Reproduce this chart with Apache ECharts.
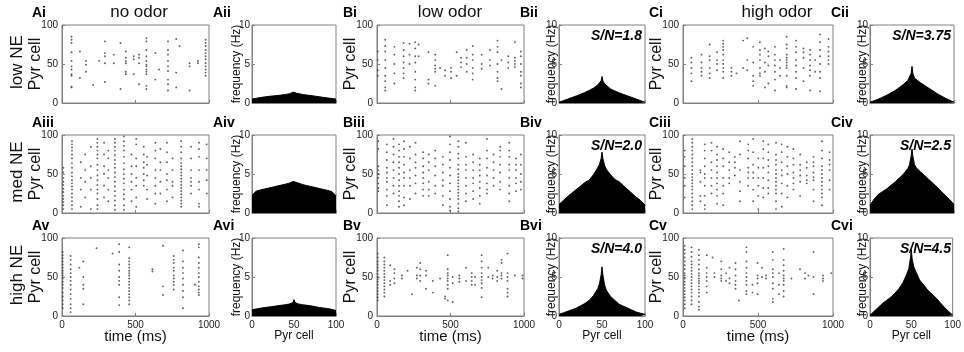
<!DOCTYPE html>
<html>
<head>
<meta charset="utf-8">
<script src="https://cdn.jsdelivr.net/npm/echarts@6/dist/echarts.min.js"></script>
<style>
  html, body { margin: 0; padding: 0; background: #fff; }
  #main { width: 964px; height: 352px; }
</style>
</head>
<body>
<div id="main"></div>
<script>
// spike rasters: [time (ms), [Pyr cells that fired]]
const rasterAi = [
  [65, [85, 81, 77, 65, 54, 47, 43, 37, 35, 21, 20]], [122, [66, 32]], [163, [54, 49, 40]], [212, [23]],
  [253, [54]], [292, [79, 64, 60, 51, 27]], [352, [62, 51]], [398, [77, 18]], [434, [66, 58, 54, 51, 40, 37]],
  [488, [60, 56, 37]], [524, [62, 58, 51, 24]], [574, [83, 79, 68, 60, 54, 49, 47, 43, 40, 37, 22, 18]],
  [635, [64, 30]], [660, [43]], [721, [79, 68, 62, 54, 47, 41, 30, 24, 16]], [777, [82, 39, 20]], [800, [73]],
  [868, [51, 47, 16]], [925, [54, 51]], [977, [81, 77, 73, 68, 64, 60, 56, 51, 47, 43, 39, 35]]
];
const rasterAiii = [
  [9, [5, 10, 14, 18, 22, 27, 31, 36, 40, 45, 52, 58]],
  [68, [92, 88, 84, 80, 75, 70, 64, 58, 52, 47, 42, 38, 34, 30, 25, 20, 15, 10, 5]],
  [128, [65, 45, 30, 8]], [158, [75, 55, 40, 20]], [196, [85, 60, 45, 30, 5]],
  [241, [95, 90, 85, 80, 75, 70, 62, 55, 48, 42, 36, 30, 25, 18, 10, 5]],
  [286, [90, 75, 60, 50, 35, 20]], [315, [80, 70, 55, 45, 30, 15]],
  [360, [95, 90, 85, 80, 74, 68, 63, 58, 52, 46, 40, 34, 28, 22, 16, 10, 4]],
  [421, [98, 92, 86, 80, 72, 64, 56, 50, 44, 38, 30, 24, 18, 10, 4]],
  [473, [75, 60, 50, 40, 30, 15]], [505, [95, 88, 70, 60, 45, 35, 20, 8]], [556, [85, 75, 65, 58, 50, 42, 35]],
  [579, [72, 62, 48, 30, 18]], [635, [90, 80, 70, 55, 45, 35, 25, 12]], [669, [82, 65, 55, 40, 25]],
  [714, [90, 78, 65, 50, 42, 30, 15]], [752, [70, 55, 40, 35, 20]],
  [811, [92, 85, 78, 70, 64, 60, 56, 52, 48, 44, 40, 36, 32, 28, 24, 20, 16, 12, 8]],
  [878, [85, 70, 55, 45, 40, 35, 25]], [932, [90, 82, 72, 55, 40, 30, 12, 8]], [984, [88, 70, 55, 42, 25]]
];
const rasterAv = [
  [5, [82, 78, 74, 70, 66, 62, 58, 55, 52, 48, 44, 40, 36, 30, 25, 20, 15, 10]],
  [59, [77, 72, 66, 60, 55, 50, 45, 40, 34, 28, 22, 15, 10, 5]],
  [118, [62]], [145, [70, 50, 40, 35, 15]], [235, [87]], [344, [80]],
  [389, [92, 82, 66, 58, 50, 45, 40, 24, 14]],
  [457, [88, 74, 70, 66, 62, 58, 55, 52, 48, 44, 40, 36, 32, 28, 24, 20, 15]],
  [615, [60, 57]], [687, [90, 38, 27]], [760, [77, 72, 68, 62, 58, 52, 48, 44, 40, 34]],
  [823, [84, 70, 62, 55, 48, 40, 32, 24, 10]], [905, [40]],
  [931, [92, 88, 75, 68, 62, 55, 50, 44, 38, 34, 30, 27]]
];
const rasterBi = [
  [5, [66, 55, 42, 35]], [56, [81, 73, 66, 55, 45, 35, 28, 20, 16]], [118, [72, 62, 50, 38, 25]],
  [181, [77, 68, 60, 52, 45, 38, 32]], [221, [76, 62, 50]], [260, [78, 70, 60, 52, 40, 30, 20, 16]],
  [283, [75, 60]], [350, [65, 30, 25]], [396, [62, 55, 48, 44, 40, 22]], [429, [45]], [463, [42, 35]],
  [504, [45, 40, 32]], [542, [65, 35]], [572, [58, 52, 46]], [610, [68, 58, 50, 40]],
  [651, [73, 62, 55, 45, 38, 30]], [712, [62, 50, 44]], [768, [68, 55, 48]],
  [820, [80, 72, 65, 50, 40, 32, 28]], [847, [55, 18]], [893, [60, 52, 45]], [938, [78, 58, 54, 50, 46]],
  [979, [66, 60, 50, 40, 35, 25, 20]]
];
const rasterBiii = [
  [9, [92, 82, 60, 55, 50, 45, 38, 32, 28]], [67, [88, 78, 68, 58, 52, 45, 40, 30, 22, 10]],
  [112, [95, 85, 75, 65, 55, 45, 35, 25]], [150, [88, 80, 72, 65, 58, 50, 42, 35, 28, 22, 15, 8]],
  [184, [92, 82, 72, 62, 52, 45, 35, 20, 10]], [224, [85, 70, 55, 45, 35, 18]],
  [262, [90, 75, 65, 58, 48, 38, 25]], [314, [78, 70, 60, 52, 45, 38, 30, 22]],
  [352, [75, 65, 55, 40, 30, 22]], [396, [80, 70, 60, 48, 35, 25]], [448, [72, 62, 52, 42, 35, 22, 10]],
  [497, [98, 88, 78, 68, 58, 48, 38, 28, 18, 8, 3]],
  [553, [92, 85, 76, 70, 62, 56, 50, 46, 42, 38, 34, 30, 26, 22, 18, 12, 6, 2]],
  [605, [90, 72, 62, 55, 45, 35, 25, 15]], [654, [75, 65, 55, 45, 38, 28, 18]],
  [699, [70, 62, 55, 48, 40, 32, 22, 12]], [748, [95, 80, 70, 58, 48, 38, 30, 25]],
  [793, [75, 65, 55, 45, 35]], [838, [85, 80, 72, 62, 52, 40, 30]],
  [900, [90, 80, 72, 62, 55, 45, 35, 25, 15]], [945, [70, 62, 55, 45, 38, 28]], [979, [75, 62, 50, 40, 30]]
];
const rasterBv = [
  [5, [80, 75, 70, 66, 62, 58, 54, 50, 47, 44, 40, 36, 32, 28, 24, 20]],
  [50, [75, 70, 66, 62, 58, 54, 50, 46, 42, 38, 34, 30, 25]], [90, [65, 45, 40]], [118, [60, 55, 48, 42]],
  [170, [52, 48]], [208, [58]], [237, [28]], [271, [62, 52, 48]], [294, [68, 60, 52, 45]], [334, [58, 52, 35]],
  [380, [45, 30]], [429, [48]], [463, [25, 22]], [481, [78, 60, 55, 52, 48, 45, 40, 35, 20]],
  [515, [50, 42, 18]], [560, [52, 48, 44]], [606, [62, 45]], [644, [55, 50, 45, 40]], [667, [50, 40]],
  [712, [78, 70, 62, 55, 50, 46, 42, 36, 24]], [757, [62, 50]], [787, [52, 48]], [818, [58, 50, 45]],
  [847, [72, 68, 55, 52, 48]], [888, [80, 55, 50, 45, 35, 30, 25]], [938, [52]], [990, [52, 48]]
];
const rasterCi = [
  [56, [58, 52, 45, 38, 28]], [123, [62, 52, 45, 40, 35]], [178, [75, 60, 55, 45, 38, 32]],
  [227, [65, 55, 50, 42]], [268, [80, 76, 72, 68, 62, 55, 50, 45, 40, 32]], [323, [45, 40, 35]],
  [357, [38]], [401, [80, 45]], [428, [83, 55, 42]], [468, [72, 52, 35, 28, 22]],
  [513, [78, 68, 62, 55, 45, 38, 35]], [546, [70, 52, 40, 20]], [569, [66, 60, 48, 25]],
  [613, [72, 62, 55, 48, 40, 30, 16]], [647, [55, 45, 35]],
  [691, [85, 75, 70, 62, 58, 55, 52, 48, 45, 35, 22, 20]], [754, [80, 72, 65, 55, 48, 40, 32, 18]],
  [803, [70, 65, 58, 45, 28]], [847, [68, 62, 55, 48, 42, 35, 16]], [881, [55, 40]],
  [914, [88, 78, 68, 60, 50, 40, 32, 15]], [970, [82, 72, 66, 60, 55, 50]]
];
const rasterCiii = [
  [11, [80, 72, 60, 45, 35, 20]],
  [62, [95, 90, 85, 80, 75, 70, 65, 60, 55, 50, 46, 42, 38, 34, 30, 25, 20, 15, 10, 5]],
  [116, [55, 52, 40, 22, 15]], [145, [88, 80, 70, 60, 50, 45, 35, 22, 10, 5]],
  [190, [90, 80, 65, 55, 45, 35, 25]], [227, [85, 75, 68, 60, 52, 45, 38, 30, 22, 12]],
  [268, [82, 70, 60, 45, 35, 25, 10]], [308, [78, 65, 55, 45, 38]], [346, [72, 65, 58, 48]],
  [379, [92, 75, 55, 40, 28, 15]], [435, [88, 80, 70, 58, 52, 45, 35]], [468, [95, 78, 62, 52, 45, 30, 15]],
  [502, [70, 58, 45, 35, 22, 5]], [535, [92, 82, 70, 58, 45, 32, 20]], [569, [88, 78, 68, 60, 52, 42, 32, 25]],
  [620, [90, 75, 68, 62, 55, 50, 45, 40, 35, 30, 25, 15, 5]], [658, [88, 78, 65, 55, 48, 38, 25, 8]],
  [696, [85, 72, 60, 50, 35, 20]], [736, [82, 70, 62, 52, 45, 38, 30]], [781, [75, 62, 55, 48, 40, 22]],
  [825, [65, 58, 48, 42, 38]], [870, [72, 65, 60, 52, 46, 42, 30, 15]],
  [926, [92, 80, 70, 60, 55, 50, 45, 40, 35, 30, 25, 20, 10]], [977, [78, 68, 62, 55, 42, 30]]
];
const rasterCv = [
  [11, [90, 85, 80, 75, 70, 65, 60, 55, 52, 48, 44, 40, 36, 32, 28, 24, 20, 15, 10]],
  [57, [88, 82, 76, 70, 66, 62, 58, 54, 50, 46, 42, 38, 34, 30, 25, 20, 15]],
  [106, [85, 78, 72, 66, 60, 55, 52, 48, 45, 42, 38, 34, 30, 25, 18, 12, 8]],
  [158, [78, 62, 55, 50, 45, 38, 30]], [197, [75]], [210, [55, 50]], [255, [70, 60, 52, 48, 45]],
  [287, [55, 45]], [310, [62, 48, 42]], [350, [68, 60, 52, 45, 40, 35]], [373, [20]],
  [423, [88, 82, 70, 62, 55, 50, 45, 40, 32, 28]], [463, [40, 30]], [497, [68, 52, 48, 42, 28]],
  [527, [62, 50]], [554, [52, 48]], [599, [82, 72, 60, 55, 50, 42, 35, 22, 18]], [640, [55, 40, 28]],
  [671, [86, 72, 65, 58, 52, 48, 45, 40, 32, 25]], [723, [48]], [780, [60]], [814, [55, 48]],
  [836, [52]], [870, [82, 50, 28]], [933, [52, 48, 45]], [988, [55]]
];

// population firing-rate profiles over Pyr cell index
const cellIdx = [0, 5, 10, 15, 20, 25, 30, 35, 40, 45, 47, 49, 50, 51, 53, 55, 60, 65, 70, 75, 80, 85, 90, 95, 100];
const freqAii = [0.5, 0.6, 0.7, 0.78, 0.85, 0.9, 0.95, 1.02, 1.1, 1.2, 1.28, 1.4, 1.6, 1.4, 1.25, 1.2, 1.1, 1.02, 0.95, 0.88, 0.8, 0.72, 0.65, 0.58, 0.5];
const freqAiv = [2.3, 2.8, 2.95, 3.08, 3.2, 3.32, 3.45, 3.58, 3.7, 3.85, 3.92, 4.05, 4.3, 4.05, 3.92, 3.85, 3.65, 3.52, 3.4, 3.28, 3.15, 3.02, 2.9, 2.75, 2.2];
const freqAvi = [0.8, 0.9, 1.0, 1.08, 1.15, 1.22, 1.3, 1.38, 1.45, 1.55, 1.62, 1.75, 2.1, 1.75, 1.6, 1.55, 1.45, 1.38, 1.3, 1.2, 1.1, 1.02, 0.95, 0.85, 0.7];
const freqBii = [0.1, 0.3, 0.5, 0.7, 0.9, 1.12, 1.35, 1.6, 1.9, 2.3, 2.5, 2.85, 3.4, 2.85, 2.45, 2.25, 1.8, 1.55, 1.3, 1.1, 0.9, 0.7, 0.5, 0.3, 0.1];
const freqBiv = [1.1, 1.6, 2.1, 2.55, 3.0, 3.45, 3.9, 4.2, 4.9, 5.8, 6.2, 7.0, 7.8, 7.0, 6.1, 5.6, 4.9, 4.3, 4.0, 3.5, 3.0, 2.5, 2.0, 1.6, 1.0];
const freqBvi = [0.2, 0.4, 0.6, 0.8, 1.0, 1.3, 1.6, 2.0, 2.6, 3.5, 4.1, 5.3, 6.3, 5.3, 4.0, 3.3, 2.5, 2.0, 1.5, 1.25, 1.0, 0.75, 0.5, 0.35, 0.2];
const freqCii = [0.1, 0.3, 0.5, 0.75, 1.0, 1.3, 1.6, 2.0, 2.4, 2.9, 3.1, 3.8, 4.7, 3.8, 3.2, 3.0, 2.6, 2.25, 1.9, 1.55, 1.2, 0.9, 0.6, 0.35, 0.1];
const freqCiv = [1.0, 1.8, 2.4, 2.75, 3.1, 3.55, 4.0, 4.5, 5.0, 5.7, 6.2, 7.3, 8.2, 7.3, 6.2, 5.8, 5.3, 4.8, 4.3, 3.8, 3.3, 2.75, 2.2, 1.7, 1.1];
const freqCvi = [0.1, 0.6, 1.1, 1.6, 2.0, 2.4, 2.9, 3.5, 4.3, 5.5, 6.1, 7.5, 8.5, 7.3, 6.3, 5.8, 4.6, 4.0, 3.3, 2.8, 2.3, 1.7, 1.1, 0.6, 0.1];

const panelLabels = [
  ['Ai', 'Aii', 'Bi', 'Bii', 'Ci', 'Cii'],
  ['Aiii', 'Aiv', 'Biii', 'Biv', 'Ciii', 'Civ'],
  ['Av', 'Avi', 'Bv', 'Bvi', 'Cv', 'Cvi']
];
const rowNames = ['low NE', 'med NE', 'high NE'];
const colTitles = ['no odor', 'low odor', 'high odor'];
const snText = [['S/N=1.8', 'S/N=3.75'], ['S/N=2.0', 'S/N=2.5'], ['S/N=4.0', 'S/N=4.5']];

const rasters = [[rasterAi, rasterBi, rasterCi], [rasterAiii, rasterBiii, rasterCiii], [rasterAv, rasterBv, rasterCv]];
const freqs = [[freqAii, freqBii, freqCii], [freqAiv, freqBiv, freqCiv], [freqAvi, freqBvi, freqCvi]];

// layout
const colLeft = [62, 252, 377, 559, 683, 870];
const colWidth = [147, 84, 147, 86, 150, 84];
const rowTop = [25, 135, 238];
const rowH = 78;
const freqNameGap = [9, 1, 1];
const titleX = [139, 450, 777];
const FONT = 'Liberation Sans, Arial, Helvetica, sans-serif';
const boxColor = '#808080';

const chart = echarts.init(document.getElementById('main'));

const grids = [], xAxes = [], yAxes = [], series = [], graphic = [];

function axisBase(show) {
  return {
    nameMoveOverlap: false,
    axisLine: { show: true, lineStyle: { color: boxColor, width: 1 } },
    axisTick: { show: true, inside: true, length: 3, lineStyle: { color: boxColor } },
    splitLine: { show: false },
    axisLabel: {
      show: show, color: '#222', fontSize: 10, fontFamily: FONT,
      showMinLabel: true, showMaxLabel: true,
      formatter: function (v) { return String(v); }
    }
  };
}

for (let r = 0; r < 3; r++) {
  for (let c = 0; c < 6; c++) {
    const g = r * 6 + c;
    const isRaster = c % 2 === 0;
    const k = Math.floor(c / 2);
    const bottomRow = r === 2;
    grids.push({
      left: colLeft[c], top: rowTop[r], width: colWidth[c], height: rowH,
      show: true, borderColor: boxColor, borderWidth: 1, backgroundColor: '#fff'
    });
    const xa = Object.assign(axisBase(bottomRow), {
      gridIndex: g, type: 'value', min: 0,
      max: isRaster ? 1000 : 100, interval: isRaster ? 500 : 50,
      name: bottomRow ? (isRaster ? 'time (ms)' : 'Pyr cell') : '',
      nameLocation: 'middle',
      nameGap: isRaster ? 13 : 14,
      nameTextStyle: { fontSize: isRaster ? 15 : 12, color: '#111', fontFamily: FONT }
    });
    xa.axisLabel.margin = 4;
    xAxes.push(xa);
    const ya = Object.assign(axisBase(true), {
      gridIndex: g, type: 'value', min: 0,
      max: isRaster ? 100 : 10, interval: isRaster ? 50 : 5,
      name: isRaster ? 'Pyr cell' : 'frequency (Hz)',
      nameLocation: 'middle',
      nameGap: isRaster ? 18 : freqNameGap[k],
      nameTextStyle: { fontSize: isRaster ? 16 : 12, color: '#111', fontFamily: FONT }
    });
    ya.axisLabel.margin = isRaster ? 4 : 2;
    yAxes.push(ya);

    if (isRaster) {
      const pts = [];
      rasters[r][k].forEach(function (col) {
        col[1].forEach(function (cell) { pts.push([col[0], cell]); });
      });
      series.push({
        type: 'scatter', xAxisIndex: g, yAxisIndex: g, data: pts,
        symbol: 'circle', symbolSize: 1.9, itemStyle: { color: '#444', opacity: 0.85 }, silent: true
      });
    } else {
      series.push({
        type: 'line', xAxisIndex: g, yAxisIndex: g,
        data: cellIdx.map(function (x, i) { return [x, freqs[r][k][i]]; }),
        showSymbol: false, lineStyle: { width: 1, color: '#000' },
        areaStyle: { color: '#000', opacity: 1 }, silent: true
      });
      if (k > 0) {
        graphic.push({
          type: 'text',
          x: colLeft[c] + colWidth[c] - 3, y: rowTop[r] + 4,
          style: { text: snText[r][k - 1], font: 'italic bold 14px ' + FONT, fill: '#000', align: 'right', verticalAlign: 'top' }
        });
      }
    }

    graphic.push({
      type: 'text',
      x: c === 0 ? 32 : colLeft[c] - (isRaster ? 34 : 39), y: rowTop[r] - 19,
      style: { text: panelLabels[r][c], font: 'bold 14px ' + FONT, fill: '#000', align: 'left', verticalAlign: 'top' }
    });
  }
  graphic.push({
    type: 'text', x: 17, y: rowTop[r] + rowH / 2 - 2, rotation: Math.PI / 2,
    style: { text: rowNames[r], font: '17px ' + FONT, fill: '#111', align: 'center', verticalAlign: 'middle' }
  });
}

colTitles.forEach(function (t, i) {
  graphic.push({
    type: 'text', x: titleX[i], y: 12,
    style: { text: t, font: '17px ' + FONT, fill: '#111', align: 'center', verticalAlign: 'middle' }
  });
});

chart.setOption({
  animation: false,
  backgroundColor: '#fff',
  grid: grids,
  xAxis: xAxes,
  yAxis: yAxes,
  series: series,
  graphic: graphic
});
</script>
</body>
</html>
